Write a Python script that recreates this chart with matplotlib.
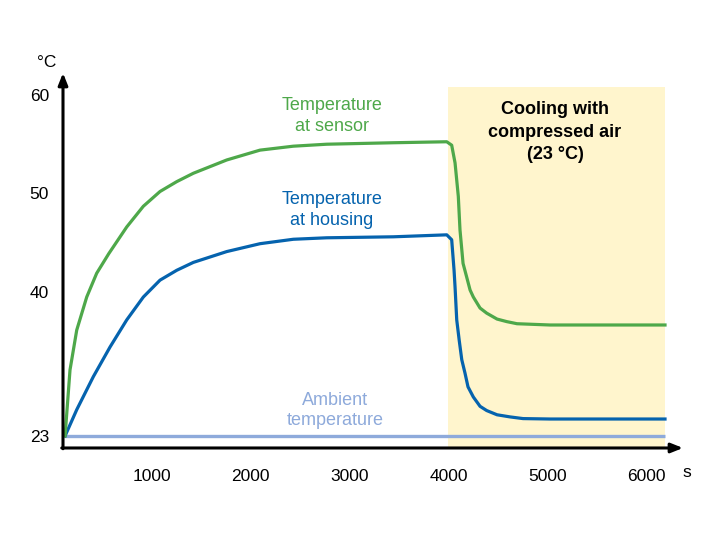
import numpy as np
import matplotlib
matplotlib.use("Agg")
import matplotlib.pyplot as plt

plt.rcParams['font.family'] = ['Liberation Sans', 'DejaVu Sans']

# time in s, temperature in degC
sensor_t = [120, 170, 238, 339, 440, 563, 744, 912, 1081, 1250, 1418, 1756, 2093, 2430, 2768,
            3442, 3983, 4033, 4067, 4100, 4117, 4148, 4185, 4219, 4252, 4320, 4387, 4492,
            4590, 4694, 5028, 6192]
sensor_T = [23.0, 30.8, 35.5, 39.4, 41.9, 43.9, 46.6, 48.7, 50.2, 51.2, 52.05, 53.4, 54.4, 54.8, 55.0,
            55.15, 55.25, 54.9, 53.1, 49.7, 46.3, 42.9, 41.5, 40.2, 39.4, 38.1, 37.5, 36.8,
            36.5, 36.25, 36.1, 36.1]

housing_t = [120, 238, 406, 575, 744, 912, 1081, 1250, 1418, 1756, 2093, 2430, 2768, 3442, 3983,
             4033, 4057, 4067, 4084, 4109, 4135, 4168, 4198, 4252, 4320, 4387, 4492, 4623,
             4755, 5028, 6192]
housing_T = [23.0, 26.1, 30.0, 33.5, 36.7, 39.4, 41.2, 42.2, 43.0, 44.1, 44.9, 45.35, 45.5, 45.6, 45.8,
             45.3, 42.2, 40.5, 36.7, 34.3, 32.0, 30.4, 28.8, 27.6, 26.5, 26.0, 25.5, 25.25,
             25.05, 25.0, 25.0]

ambient_t = [120, 6192]
ambient_T = [23.0, 23.0]

cooling_start, cooling_end = 4000, 6192

x_ticks = [1000, 2000, 3000, 4000, 5000, 6000]
y_ticks = [23, 40, 50, 60]

GREEN = '#4ea84a'
BLUE = '#0563ae'
AMBIENT = '#8eaadb'
SHADE = '#fff5cd'

# schematic axis: the range below 40 degC is squeezed
k = 14.62 / 17


def fwd(y):
    y = np.asarray(y, dtype=float)
    return np.where(y >= 40, y, 40 - (40 - y) * k)


def inv(y):
    y = np.asarray(y, dtype=float)
    return np.where(y >= 40, y, 40 - (40 - y) / k)


fig = plt.figure(figsize=(7.2, 5.4), dpi=100)
ax = fig.add_axes([0.0875, 0.1704, 0.8611, 0.6944])
ax.set_yscale('function', functions=(fwd, inv))
ax.set_xlim(99, 6374)
ax.set_ylim(21.58, 62.23)

ax.axvspan(cooling_start, cooling_end, ymin=0, ymax=0.9627,
           color=SHADE, lw=0, zorder=0)

ax.plot(ambient_t, ambient_T, color=AMBIENT, lw=2.4, solid_capstyle='butt', zorder=2)
ax.plot(housing_t, housing_T, color=BLUE, lw=2.3, solid_joinstyle='round', zorder=3)
ax.plot(sensor_t, sensor_T, color=GREEN, lw=2.3, solid_joinstyle='round', zorder=3)

for s in ax.spines.values():
    s.set_visible(False)

arrow = dict(arrowstyle='-|>,head_length=0.7,head_width=0.28', color='black', lw=2.2,
             shrinkA=0, shrinkB=0)
ax.annotate('', xy=(1.0, 0), xytext=(-0.002, 0), xycoords='axes fraction', arrowprops=arrow)
ax.annotate('', xy=(0, 1.0), xytext=(0, -0.002), xycoords='axes fraction', arrowprops=arrow)

ax.set_xticks(x_ticks)
ax.set_xticklabels([str(v) for v in x_ticks])
ax.set_yticks(y_ticks)
ax.set_yticklabels([str(v) for v in y_ticks])
ax.tick_params(axis='both', length=0, labelsize=12.5)
ax.tick_params(axis='x', pad=15)
ax.tick_params(axis='y', pad=10)

ax.text(-0.027, 1.028, '°C', transform=ax.transAxes, fontsize=12.5, ha='center', va='center')
ax.text(0.999, -0.066, 's', transform=ax.transAxes, fontsize=12.5, ha='left', va='center')

ax.text(2822, 57.9, 'Temperature\nat sensor', color=GREEN, fontsize=13, ha='center', va='center',
        linespacing=1.3)
ax.text(2822, 48.3, 'Temperature\nat housing', color=BLUE, fontsize=13, ha='center', va='center',
        linespacing=1.3)
ax.text(2852, 26.0, 'Ambient\ntemperature', color=AMBIENT, fontsize=13, ha='center', va='center',
        linespacing=1.3)
ax.text(5079, 56.24, 'Cooling with\ncompressed air\n(23 °C)', fontsize=13, fontweight='bold',
        ha='center', va='center', linespacing=1.4)

fig.savefig('out.png', dpi=100)
